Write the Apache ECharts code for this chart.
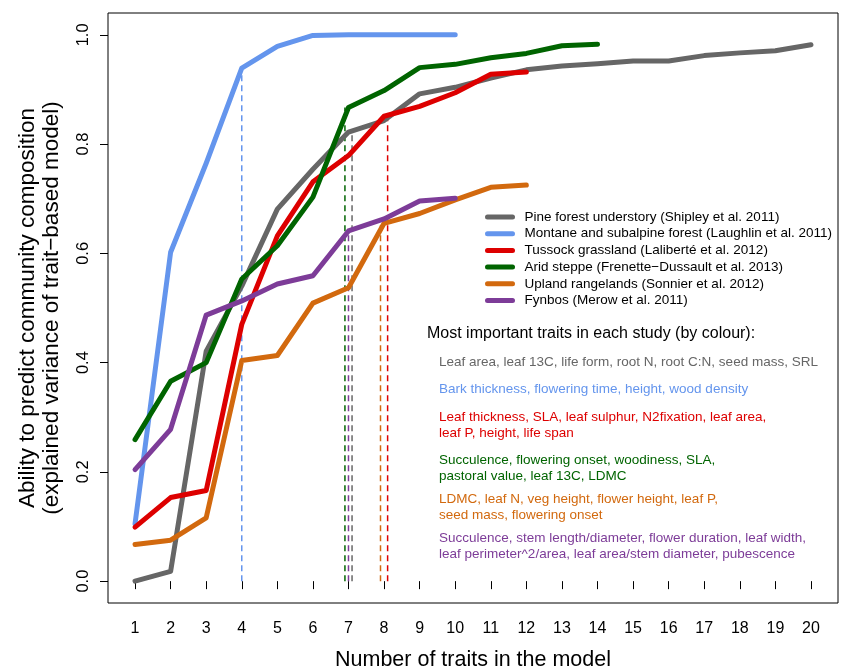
<!DOCTYPE html>
<html>
<head>
<meta charset="utf-8">
<script src="https://cdn.jsdelivr.net/npm/echarts@6/dist/echarts.min.js"></script>
<style>
  html, body { margin: 0; padding: 0; background: #fff; }
  #chart { width: 845px; height: 671px; }
</style>
</head>
<body>
<div id="chart"></div>
<script>
// number of traits in the model
const traitTicks = [1, 2, 3, 4, 5, 6, 7, 8, 9, 10, 11, 12, 13, 14, 15, 16, 17, 18, 19, 20];
const yTicks = [0, 0.2, 0.4, 0.6, 0.8, 1.0];

const studyNames = [
  'Pine forest understory (Shipley et al. 2011)',
  'Montane and subalpine forest (Laughlin et al. 2011)',
  'Tussock grassland (Laliberté et al. 2012)',
  'Arid steppe (Frenette\u2212Dussault et al. 2013)',
  'Upland rangelands (Sonnier et al. 2012)',
  'Fynbos (Merow et al. 2011)'
];
const studyColors = ['#666666', '#6495ED', '#DD0000', '#006400', '#D2690E', '#7D3C98'];

// explained variance, starting at 1 trait
const pine = [0.0, 0.018, 0.421, 0.54, 0.681, 0.754, 0.822, 0.843, 0.892, 0.904, 0.921, 0.936, 0.943, 0.947, 0.952, 0.952, 0.962, 0.967, 0.971, 0.982];
const montane = [0.105, 0.602, 0.765, 0.939, 0.979, 0.999, 1.0, 1.0, 1.0, 1.0];
const tussock = [0.099, 0.153, 0.166, 0.470, 0.632, 0.731, 0.779, 0.851, 0.869, 0.894, 0.928, 0.932];
const arid = [0.259, 0.366, 0.400, 0.553, 0.614, 0.703, 0.867, 0.898, 0.940, 0.946, 0.958, 0.966, 0.980, 0.983];
const upland = [0.067, 0.075, 0.116, 0.404, 0.413, 0.509, 0.537, 0.655, 0.673, 0.698, 0.721, 0.725];
const fynbos = [0.204, 0.278, 0.487, 0.513, 0.544, 0.559, 0.641, 0.663, 0.696, 0.701];

// selected number of traits per study, and where its dashed line is drawn
const chosenTraits = [7, 4, 8, 7, 8, 7];
const dropX = [7.1, 4, 8.1, 6.9, 7.9, 7.0];

const traitTexts = [
  'Leaf area, leaf 13C, life form, root N, root C:N, seed mass, SRL',
  'Bark thickness, flowering time, height, wood density',
  'Leaf thickness, SLA, leaf sulphur, N2fixation, leaf area,\nleaf P, height, life span',
  'Succulence, flowering onset, woodiness, SLA,\npastoral value, leaf 13C, LDMC',
  'LDMC, leaf N, veg height, flower height, leaf P,\nseed mass, flowering onset',
  'Succulence, stem length/diameter, flower duration, leaf width,\nleaf perimeter^2/area, leaf area/stem diameter, pubescence'
];
const traitTextTop = [354, 381, 409, 452, 491, 530];

const allSeries = [pine, montane, tussock, arid, upland, fynbos];
const FONT = '"Liberation Sans", Arial, Helvetica, sans-serif';

const chart = echarts.init(document.getElementById('chart'));

const series = [];
// dashed drop lines first, so the curves sit over them
allSeries.forEach(function (vals, i) {
  const top = vals[chosenTraits[i] - 1];
  series.push({
    type: 'line',
    name: 'drop' + i,
    data: [[dropX[i], 0], [dropX[i], top]],
    symbol: 'none',
    silent: true,
    lineStyle: { color: studyColors[i], width: 1.5, type: [6, 4] },
    z: 1
  });
});
allSeries.forEach(function (vals, i) {
  series.push({
    type: 'line',
    name: studyNames[i],
    data: vals.map(function (v, k) { return [traitTicks[k], v]; }),
    symbol: 'none',
    lineStyle: { color: studyColors[i], width: 5, cap: 'round', join: 'round' },
    itemStyle: { color: studyColors[i] },
    z: 2
  });
});

const graphics = [
  {
    type: 'text', x: 40, y: 308, rotation: Math.PI / 2,
    style: {
      text: 'Ability to predict community composition\n(explained variance of trait\u2212based model)',
      font: '22.5px ' + FONT, fill: '#000', align: 'center', verticalAlign: 'middle', lineHeight: 24
    }
  },
  {
    type: 'text', x: 473, y: 660,
    style: { text: 'Number of traits in the model', font: '21.5px ' + FONT, fill: '#000', align: 'center', verticalAlign: 'middle' }
  },
  {
    type: 'text', x: 427, y: 334,
    style: { text: 'Most important traits in each study (by colour):', font: '16px ' + FONT, fill: '#000', verticalAlign: 'middle' }
  }
];
traitTexts.forEach(function (t, i) {
  graphics.push({
    type: 'text', x: 439, y: traitTextTop[i],
    style: { text: t, font: '13.5px ' + FONT, fill: studyColors[i], verticalAlign: 'top', lineHeight: 16 }
  });
});

chart.setOption({
  animation: false,
  grid: {
    left: 108, right: 7, top: 13, bottom: 68,
    show: true, borderColor: '#000', borderWidth: 1,
    outerBoundsMode: 'none'
  },
  legend: {
    data: studyNames,
    orient: 'vertical',
    left: 485, top: 210,
    padding: 0,
    itemWidth: 25, itemHeight: 14, itemGap: 2.7,
    itemStyle: { opacity: 0 },
    lineStyle: { width: 5, cap: 'round' },
    textStyle: { fontSize: 13.5, fontFamily: FONT, color: '#000', padding: [0, 0, 0, 7] }
  },
  xAxis: {
    type: 'value', min: 0.24, max: 20.76,
    axisLine: { show: false },
    splitLine: { show: false },
    axisTick: { show: true, customValues: traitTicks, length: 8, lineStyle: { color: '#000' } },
    axisLabel: { customValues: traitTicks, fontSize: 16, fontFamily: FONT, color: '#000', margin: 18 }
  },
  yAxis: {
    type: 'value', min: -0.04, max: 1.04,
    axisLine: { show: false },
    splitLine: { show: false },
    axisTick: { show: true, customValues: yTicks, length: 8, lineStyle: { color: '#000' } },
    axisLabel: {
      customValues: yTicks, rotate: 90, fontSize: 16.5, fontFamily: FONT, color: '#000', margin: 16,
      formatter: function (v) { return v.toFixed(1); }
    }
  },
  graphic: graphics,
  series: series
});
</script>
</body>
</html>
